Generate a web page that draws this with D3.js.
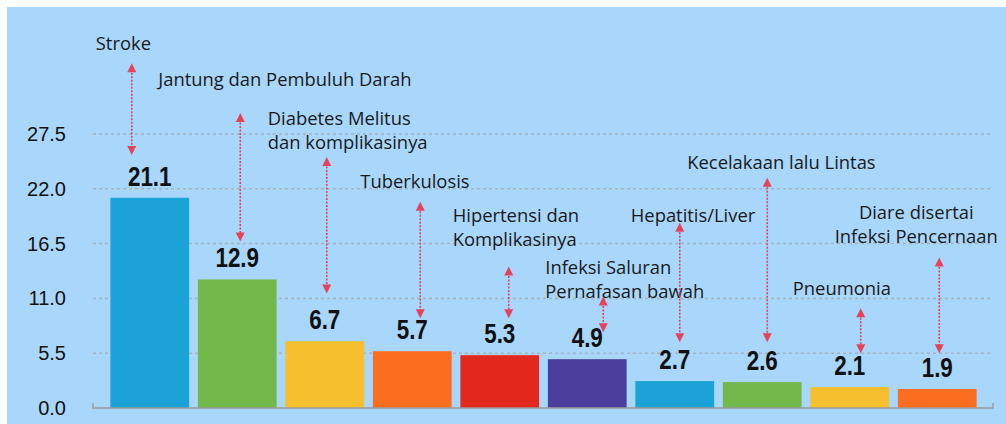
<!DOCTYPE html>
<html>
<head>
<meta charset="utf-8">
<script src="https://cdn.jsdelivr.net/npm/d3@7"></script>
<style>
  body { margin: 0; background: #fff; }
  .tick text { font-family: "Liberation Sans", Arial, sans-serif; font-size: 20px; fill: #111; }
  .value-label { font-family: "Liberation Sans", Arial, sans-serif; font-weight: bold; font-size: 27px; fill: #111; }
  .cat-label { font-family: "Open Sans", sans-serif; font-size: 18.4px; fill: #1a1a1a; }
</style>
</head>
<body>
<div id="chart"></div>
<script>
// data
let categories = ["Stroke", "Jantung dan Pembuluh Darah", "Diabetes Melitus dan komplikasinya",
  "Tuberkulosis", "Hipertensi dan Komplikasinya", "Infeksi Saluran Pernafasan bawah",
  "Hepatitis/Liver", "Kecelakaan lalu Lintas", "Pneumonia", "Diare disertai Infeksi Pencernaan"];
let values = [21.1, 12.9, 6.7, 5.7, 5.3, 4.9, 2.7, 2.6, 2.1, 1.9];
let yTicks = [0, 5.5, 11, 16.5, 22, 27.5];

let colors = ["#1ba2d6", "#72b84b", "#f5bf2d", "#fc6d20", "#e2271d", "#4a3f9f",
  "#1ba2d6", "#72b84b", "#f5bf2d", "#fc6d20"];

// annotation layout: text lines, offsets from bar centre (px), heights in axis units
let annotations = [
  {lines: ["Stroke"], dx: -54, textY: 35.9, arrowDx: -18, top: 34.6, bottom: 25.4},
  {lines: ["Jantung dan Pembuluh Darah"], dx: -79, textY: 32.3, arrowDx: 3, top: 29.6, bottom: 16.7},
  {lines: ["Diabetes Melitus", "dan komplikasinya"], dx: -57, textY: 28.4, arrowDx: 2, top: 25.2, bottom: 11.5},
  {lines: ["Tuberkulosis"], dx: -52, textY: 22.1, arrowDx: 8, top: 20.7, bottom: 9.0},
  {lines: ["Hipertensi dan", "Komplikasinya"], dx: -47, textY: 18.7, arrowDx: 9, top: 14.2, bottom: 9.0},
  {lines: ["Infeksi Saluran", "Pernafasan bawah"], dx: -42, textY: 13.4, arrowDx: 16, top: 11.2, bottom: 7.6},
  {lines: ["Hepatitis/Liver"], dx: -44, textY: 18.7, arrowDx: 5, top: 18.6, bottom: 6.6},
  {lines: ["Kecelakaan lalu Lintas"], dx: -75, textY: 24.0, arrowDx: 5, top: 23.1, bottom: 6.6},
  {lines: ["Pneumonia"], dx: -57, textY: 11.3, arrowDx: 11, top: 10.0, bottom: 5.5},
  {lines: ["Diare disertai", "Infeksi Pencernaan"], dx: -21, textY: 19.0, arrowDx: 2, top: 15.1, bottom: 5.5, anchor: "middle"}
];

let width = 1006, height = 424;

let svg = d3.select("#chart")
  .append("svg")
    .attr("width", width)
    .attr("height", height);

// blue panel
svg.append("rect")
  .attr("x", 7)
  .attr("y", 7)
  .attr("width", width - 7)
  .attr("height", height - 7)
  .style("fill", "#a9d6fb");

let x = d3.scaleBand()
  .domain(categories)
  .range([106, 981])
  .paddingInner(0.1)
  .paddingOuter(0.05);

let y = d3.scaleLinear()
  .domain([0, 27.5])
  .range([408, 134]);

let gridLeft = 93, gridRight = 993;

// dotted grid lines
svg.append("g")
  .selectAll("line")
  .data(yTicks.filter(d => d > 0))
  .join("line")
    .attr("x1", gridLeft)
    .attr("x2", gridRight)
    .attr("y1", d => y(d))
    .attr("y2", d => y(d))
    .style("stroke", "#a3b3bf")
    .style("stroke-width", 1.5)
    .style("stroke-dasharray", "3,3");

// y axis labels
svg.append("g")
  .attr("transform", "translate(" + gridLeft + ",0)")
  .call(d3.axisLeft(y)
    .tickValues(yTicks)
    .tickFormat(d3.format(".1f"))
    .tickSize(0)
    .tickPadding(27))
  .call(g => g.select(".domain").remove());

// bars
svg.append("g")
  .selectAll("rect")
  .data(values)
  .join("rect")
    .attr("x", (d, i) => x(categories[i]))
    .attr("y", d => y(d))
    .attr("width", x.bandwidth())
    .attr("height", d => y(0) - y(d))
    .style("fill", (d, i) => colors[i]);

// base line with little end ticks
svg.append("path")
  .attr("d", "M" + gridLeft + "," + (y(0) - 5) + "V" + y(0) + "H" + gridRight + "V" + (y(0) - 5))
  .style("fill", "none")
  .style("stroke", "#9a9a9a")
  .style("stroke-width", 1.5);

// value labels
svg.append("g")
  .selectAll("text")
  .data(values)
  .join("text")
    .attr("class", "value-label")
    .attr("text-anchor", "middle")
    .attr("transform", (d, i) => "translate(" + (x(categories[i]) + x.bandwidth() / 2) + "," + (y(d) - 12) + ") scale(0.83,1)")
    .text(d => d3.format(".1f")(d));

// category labels and double arrows
let arrowColor = "#e4435c";
annotations.forEach((a, i) => {
  let cx = x(categories[i]) + x.bandwidth() / 2;

  let t = svg.append("text")
    .attr("class", "cat-label")
    .attr("text-anchor", a.anchor || "start")
    .attr("x", cx + a.dx)
    .attr("y", y(a.textY));
  a.lines.forEach((line, j) => {
    t.append("tspan")
      .attr("x", cx + a.dx)
      .attr("dy", j === 0 ? 0 : 24)
      .text(line);
  });

  let ax = cx + a.arrowDx;
  let y1 = y(a.top), y2 = y(a.bottom);
  svg.append("line")
    .attr("x1", ax).attr("x2", ax)
    .attr("y1", y1 + 6).attr("y2", y2 - 6)
    .style("stroke", arrowColor)
    .style("stroke-width", 1.6)
    .style("stroke-dasharray", "2,1.5");
  svg.append("path")
    .attr("d", "M" + ax + "," + y1 + "l-4.5,9h9z")
    .style("fill", arrowColor);
  svg.append("path")
    .attr("d", "M" + ax + "," + y2 + "l-4.5,-9h9z")
    .style("fill", arrowColor);
});
</script>
</body>
</html>
